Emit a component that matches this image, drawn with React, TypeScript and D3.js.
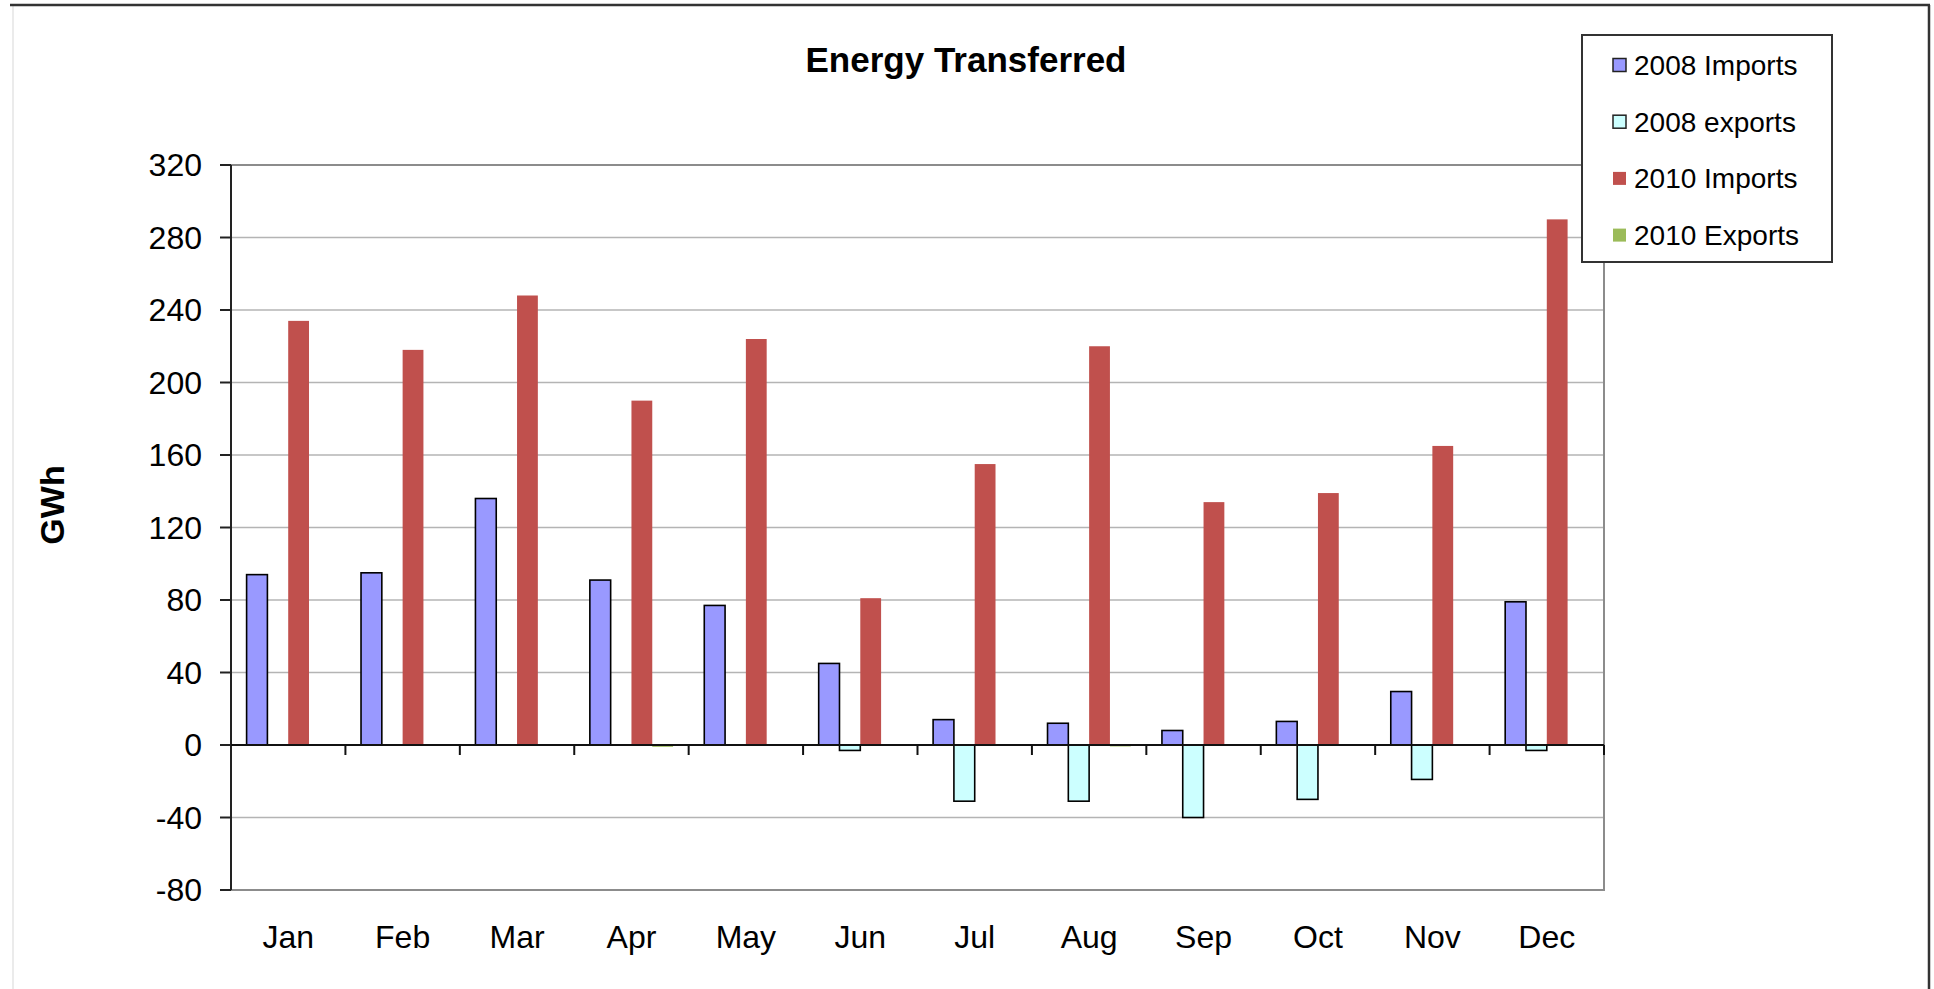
import React from "react";
import * as d3 from "d3";

// monthly energy transferred, GWh
const months = ["Jan", "Feb", "Mar", "Apr", "May", "Jun", "Jul", "Aug", "Sep", "Oct", "Nov", "Dec"];
const imports2008 = [94, 95, 136, 91, 77, 45, 14, 12, 8, 13, 29.5, 79];
const exports2008 = [0, 0, 0, 0, 0, -3, -31, -31, -40, -30, -19, -3];
const imports2010 = [234, 218, 248, 190, 224, 81, 155, 220, 134, 139, 165, 290];
const exports2010 = [0, 0, 0, -1, 0, 0, 0, -0.8, 0, 0, 0, 0];
const seriesNames = ["2008 Imports", "2008 exports", "2010 Imports", "2010 Exports"];
const yTicks = [320, 280, 240, 200, 160, 120, 80, 40, 0, -40, -80];

const colors = ["#9999ff", "#ccffff", "#c0504d", "#9bbb59"];
const outlined = [true, true, false, false];
const FONT = "'Liberation Sans', Arial, sans-serif";

export default function App() {
  const W = 1934, H = 989;
  const left = 231, right = 1604, top = 165, bottom = 890;

  const series = [imports2008, exports2008, imports2010, exports2010];

  const x0 = d3.scaleBand().domain(months).range([left, right]).padding(0);
  const x1 = d3.scaleBand().domain(seriesNames).range([0, x0.bandwidth()])
    .paddingInner(0).paddingOuter(0.75);
  const y = d3.scaleLinear().domain([-80, 320]).range([bottom, top]);
  const y0 = y(0);

  return (
    <svg width={W} height={H} style={{ position: "absolute", left: 0, top: 0, background: "#fff" }}
      fontFamily={FONT}>
      {/* outer frame */}
      <line x1={13} y1={6} x2={13} y2={H} stroke="#e4e4e4" strokeWidth={1.5} />
      <line x1={10} y1={5} x2={1930} y2={5} stroke="#333" strokeWidth={2.5} />
      <line x1={1929} y1={5} x2={1929} y2={H} stroke="#333" strokeWidth={2.5} />

      <text x={966} y={72} textAnchor="middle" fontSize={35} fontWeight="bold">Energy Transferred</text>

      {/* gridlines */}
      {yTicks.map((t) => (
        <line key={"g" + t} x1={left} x2={right} y1={y(t)} y2={y(t)} stroke="#b4b4b4" strokeWidth={1.5} />
      ))}
      <rect x={left} y={top} width={right - left} height={bottom - top} fill="none" stroke="#8c8c8c" strokeWidth={2} />

      {/* bars */}
      {series.map((vals, si) =>
        vals.map((v, i) => {
          const bx = (x0(months[i]) as number) + (x1(seriesNames[si]) as number);
          const by = Math.min(y(v), y0);
          const bh = Math.abs(y(v) - y0);
          if (bh === 0) return null;
          return (
            <rect key={si + "-" + i} x={bx} y={by} width={x1.bandwidth()} height={bh}
              fill={colors[si]} stroke={outlined[si] ? "#000" : "none"} strokeWidth={1.6} />
          );
        })
      )}

      {/* y axis */}
      <line x1={left} x2={left} y1={top} y2={bottom} stroke="#222" strokeWidth={2} />
      {yTicks.map((t) => (
        <g key={"t" + t}>
          <line x1={left - 11} x2={left} y1={y(t)} y2={y(t)} stroke="#222" strokeWidth={2} />
          <text x={202} y={y(t) + 11} textAnchor="end" fontSize={32}>{t}</text>
        </g>
      ))}
      <text transform={`translate(64, ${505}) rotate(-90)`} textAnchor="middle" fontSize={34} fontWeight="bold">GWh</text>

      {/* zero axis with category ticks */}
      <line x1={left} x2={right} y1={y0} y2={y0} stroke="#111" strokeWidth={2} />
      {months.map((m, i) => (
        <line key={"ct" + m} x1={(x0(m) as number) + x0.bandwidth()} x2={(x0(m) as number) + x0.bandwidth()}
          y1={y0} y2={y0 + 10} stroke="#111" strokeWidth={2} />
      ))}
      {months.map((m) => (
        <text key={"l" + m} x={(x0(m) as number) + x0.bandwidth() / 2} y={948} textAnchor="middle" fontSize={32}>{m}</text>
      ))}

      {/* legend */}
      <rect x={1582} y={35} width={250} height={227} fill="#fff" stroke="#333" strokeWidth={2} />
      {seriesNames.map((s, i) => {
        const cy = 65 + i * 56.7;
        return (
          <g key={"lg" + s}>
            <rect x={1613} y={cy - 6.5} width={13} height={13} fill={colors[i]}
              stroke={outlined[i] ? "#222" : "none"} strokeWidth={1.5} />
            <text x={1634} y={cy + 10} fontSize={28}>{s}</text>
          </g>
        );
      })}
    </svg>
  );
}
